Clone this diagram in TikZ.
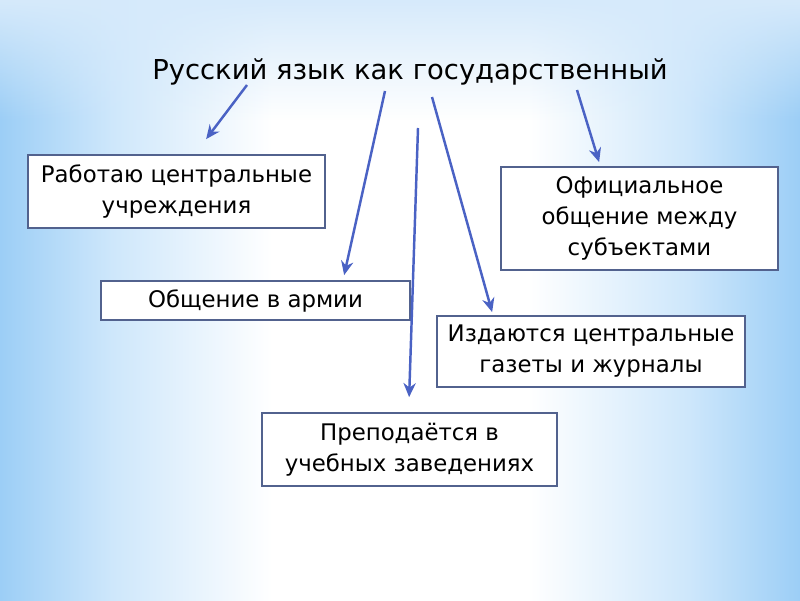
\documentclass[tikz,border=0pt]{standalone}
\usepackage{fontspec}
\setmainfont{DejaVu Sans}
\usetikzlibrary{arrows.meta, calc, fadings}

\definecolor{bgedge}{RGB}{156,206,246}
\definecolor{bgmid}{RGB}{206,231,251}
\definecolor{bgtop}{RGB}{214,234,251}
\definecolor{arrowblue}{RGB}{74,98,196}
\definecolor{boxline}{RGB}{82,98,142}
\pgfdeclarehorizontalshading{slidebg}{100bp}{%
  color(0bp)=(bgedge); color(25bp)=(bgedge); color(32bp)=(bgmid); color(42bp)=(white);
  color(58bp)=(white); color(68bp)=(bgmid); color(75bp)=(bgedge); color(100bp)=(bgedge)}

\begin{document}
\begin{tikzpicture}[
  title/.style={font=\fontsize{15.6}{19}\selectfont, inner sep=0pt},
  item/.style ={draw=boxline, line width=1pt, fill=white, rectangle,
                align=center, font=\fontsize{13}{17.6}\selectfont},
  arr/.style  ={-{Stealth[length=8pt, width=7pt]}, draw=arrowblue, line width=1.4pt},
]

%% ---- Background ----
\shade[shading=slidebg] (0,0) rectangle (16,12);
\fill[bgtop, path fading=south] (0,9.6) rectangle (16,12);
\useasboundingbox (0,0) rectangle (16,12);

%% ---- Nodes ----
\node[title] (T)  at ( 8.20, 10.56) {Русский язык как государственный};
\node[item, minimum width=5.94cm, minimum height=1.46cm] (B1) at ( 3.53, 8.17) {Работаю центральные\\учреждения};
\node[item, minimum width=5.54cm, minimum height=2.06cm] (B2) at (12.79, 7.63) {Официальное\\общение между\\субъектами};
\node[item, minimum width=6.18cm, minimum height=0.78cm] (B3) at ( 5.11, 5.99) {Общение в армии};
\node[item, minimum width=6.16cm, minimum height=1.42cm] (B4) at (11.82, 4.97) {Издаются центральные\\газеты и журналы};
\node[item, minimum width=5.90cm, minimum height=1.46cm] (B5) at ( 8.19, 3.01) {Преподаётся в\\учебных заведениях};

%% ---- Arrow starts under the title ----
\coordinate (s1) at ( 4.94, 10.30);
\coordinate (s2) at ( 7.70, 10.18);
\coordinate (s3) at ( 8.36,  9.44);
\coordinate (s4) at ( 8.64, 10.06);
\coordinate (s5) at (11.54, 10.20);

%% ---- Title -> Boxes ----
\draw[arr] (s1) -- ($(B1.north west)+(3.58, 0.30)$);
\draw[arr] (s2) -- ($(B3.north west)+(4.88, 0.10)$);
\draw[arr] (s3) -- ($(B5.north west)+(2.96, 0.30)$);
\draw[arr] (s4) -- ($(B4.north west)+(1.12, 0.06)$);
\draw[arr] (s5) -- ($(B2.north west)+(1.98, 0.08)$);

\end{tikzpicture}
\end{document}
